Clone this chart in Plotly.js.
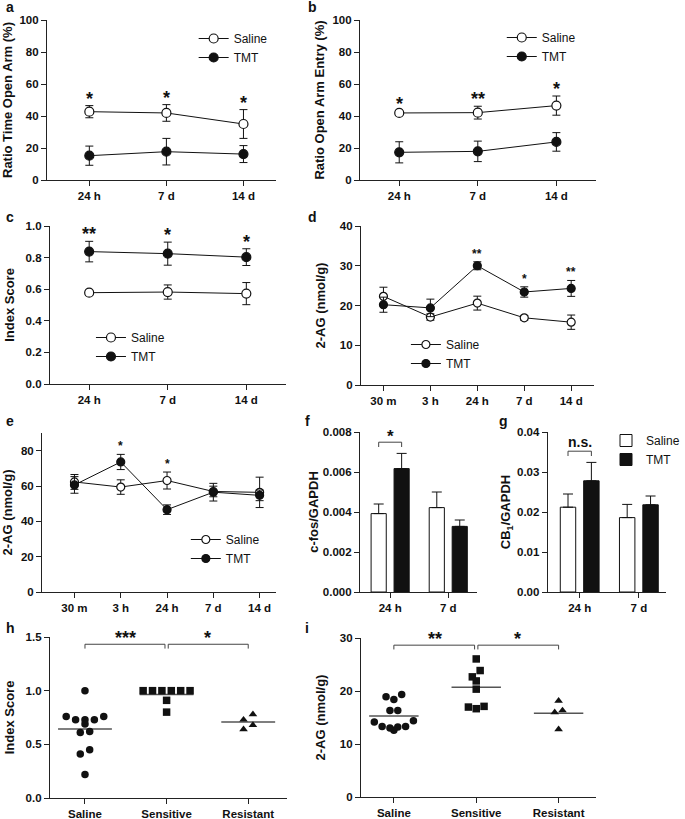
<!DOCTYPE html>
<html>
<head>
<meta charset="utf-8">
<script src="https://cdn.plot.ly/plotly-3.0.1.min.js"></script>
<style>
  body { margin: 0; background: #fff; }
  #fig { width: 685px; height: 819px; }
</style>
</head>
<body>
<div id="fig"></div>
<script>
// ---- data ----
var timesShort = ['24 h', '7 d', '14 d'];
var timesLong = ['30 m', '3 h', '24 h', '7 d', '14 d'];
var barTimes = ['24 h', '7 d'];
var groupNames = ['Saline', 'Sensitive', 'Resistant'];

// a: ratio time in open arm (%)
var openTimeSaline = [42.7, 41.9, 35.0];
var openTimeSalineSem = [3.8, 5.2, 9.0];
var openTimeTMT = [15.2, 17.7, 16.2];
var openTimeTMTSem = [6.0, 8.3, 5.3];
var openTimeSig = ['*', '*', '*'];

// b: ratio open arm entry (%)
var openEntrySaline = [41.9, 42.1, 46.5];
var openEntrySalineSem = [1.0, 4.0, 6.0];
var openEntryTMT = [17.3, 17.9, 23.8];
var openEntryTMTSem = [6.6, 6.4, 5.8];
var openEntrySig = ['*', '**', '*'];

// c: index score
var indexSaline = [0.578, 0.582, 0.572];
var indexSalineSem = [0.015, 0.045, 0.07];
var indexTMT = [0.838, 0.825, 0.803];
var indexTMTSem = [0.065, 0.073, 0.053];
var indexSig = ['**', '*', '*'];

// d: 2-AG (nmol/g)
var agDSaline = [22.3, 17.1, 20.6, 16.9, 15.8];
var agDSalineSem = [2.3, 0.8, 1.75, 0.6, 1.8];
var agDTMT = [20.2, 19.4, 30.0, 23.4, 24.3];
var agDTMTSem = [1.9, 2.2, 1.0, 1.3, 2.0];
var agDSig = ['', '', '**', '*', '**'];

// e: 2-AG (nmol/g)
var agESaline = [62.3, 59.4, 63.1, 56.9, 56.4];
var agESalineSem = [4.2, 4.1, 4.8, 3.0, 8.6];
var agETMT = [60.6, 73.6, 46.6, 56.5, 54.7];
var agETMTSem = [4.7, 4.3, 2.7, 5.0, 3.0];
var agESig = ['', '*', '*', '', ''];

// f: c-fos/GAPDH
var cfosSaline = [0.00392, 0.00422];
var cfosSalineSem = [0.00048, 0.00078];
var cfosTMT = [0.00617, 0.00328];
var cfosTMTSem = [0.00076, 0.00032];

// g: CB1/GAPDH
var cb1Saline = [0.0212, 0.0186];
var cb1SalineSem = [0.0033, 0.0033];
var cb1TMT = [0.0278, 0.0218];
var cb1TMTSem = [0.0046, 0.0022];

// h: index score per animal
var scoreSaline = [1.0, 0.76, 0.73, 0.69, 0.73, 0.73, 0.76, 0.61, 0.62, 0.45, 0.41, 0.22];
var scoreSensitive = [1.0, 1.0, 1.0, 1.0, 1.0, 1.0, 0.91, 0.80];
var scoreResistant = [0.78, 0.73, 0.68, 0.64];

// i: 2-AG per animal
var agSaline = [19.35, 18.4, 18.9, 16.3, 16.3, 14.4, 14.15, 13.3, 13.2, 12.6, 13.0, 13.3];
var agSensitive = [26.05, 23.86, 22.67, 21.9, 20.35, 17.1, 16.66, 16.97];
var agResistant = [18.16, 16.34, 15.97, 12.77];

// ---- layout helpers ----
var W = 685, H = 819;
var INK = '#111';
var FONT = 'Liberation Sans, Arial, sans-serif';

function dom(x0, x1, yTop, yBot) {
  return { x: [x0 / W, x1 / W], y: [1 - yBot / H, 1 - yTop / H] };
}
function sfx(k) { return k === 1 ? '' : String(k); }
function baseAxis() {
  return {
    showline: true, linecolor: '#222', linewidth: 1,
    ticks: 'outside', ticklen: 5, tickwidth: 1, tickcolor: '#222',
    showgrid: false, zeroline: false, fixedrange: true,
    tickfont: { family: FONT, size: 11.5, color: INK, weight: 'bold' }
  };
}

var layout = {
  width: W, height: H,
  margin: { l: 0, r: 0, t: 0, b: 0 },
  paper_bgcolor: '#fff', plot_bgcolor: '#fff',
  font: { family: FONT, color: INK },
  barmode: 'group', bargap: 0.21, bargroupgap: 0.34,
  showlegend: true,
  annotations: [], shapes: []
};
var traces = [];

function addAxes(k, d, xcfg, ycfg, ytitle) {
  var s = sfx(k);
  var xa = Object.assign(baseAxis(), { domain: d.x, anchor: 'y' + s }, xcfg);
  var ya = Object.assign(baseAxis(), { domain: d.y, anchor: 'x' + s }, ycfg);
  ya.title = { text: ytitle, font: { family: FONT, size: 13, color: INK, weight: 'bold' } };
  layout['xaxis' + s] = xa;
  layout['yaxis' + s] = ya;
}

function addLegend(id, px, py) {
  layout[id] = {
    x: px / W, y: 1 - py / H, xanchor: 'left', yanchor: 'top',
    bgcolor: 'rgba(0,0,0,0)', borderwidth: 0,
    font: { family: FONT, size: 12, color: INK },
    tracegroupgap: 0, itemwidth: 30
  };
}

function linePanel(k, labels, sal, salSem, tmt, tmtSem, sig, legendId, msize, starSize, starShift) {
  var s = sfx(k);
  var xs = labels.map(function (_, i) { return i; });
  var common = { x: xs, xaxis: 'x' + s, yaxis: 'y' + s, type: 'scatter', mode: 'lines+markers',
                 cliponaxis: false, legend: legendId, hoverinfo: 'skip' };
  traces.push(Object.assign({}, common, {
    name: 'Saline', y: sal,
    line: { color: INK, width: 1 },
    marker: { symbol: 'circle', size: msize, color: '#fff', line: { color: INK, width: 1.2 } },
    error_y: { type: 'data', array: salSem, color: INK, thickness: 1, width: 4 }
  }));
  traces.push(Object.assign({}, common, {
    name: 'TMT', y: tmt,
    line: { color: INK, width: 1 },
    marker: { symbol: 'circle', size: msize, color: INK, line: { color: INK, width: 1.2 } },
    error_y: { type: 'data', array: tmtSem, color: INK, thickness: 1, width: 4 }
  }));
  sig.forEach(function (t, i) {
    if (!t) return;
    layout.annotations.push({
      xref: 'x' + s, yref: 'y' + s, x: i,
      y: Math.max(sal[i] + salSem[i], tmt[i] + tmtSem[i]),
      text: t, showarrow: false, yanchor: 'bottom', yshift: starShift,
      font: { family: FONT, size: starSize, color: INK, weight: 'bold' }
    });
  });
}

function bracket(k, x0, x1, y, drop) {
  var s = sfx(k);
  layout.shapes.push({
    type: 'path', xref: 'x' + s, yref: 'y' + s,
    path: 'M ' + x0 + ',' + (y - drop) + ' L ' + x0 + ',' + y + ' L ' + x1 + ',' + y + ' L ' + x1 + ',' + (y - drop),
    line: { color: '#444', width: 1 }
  });
}
function label(k, x, y, text, size, shift) {
  var s = sfx(k);
  layout.annotations.push({
    xref: 'x' + s, yref: 'y' + s, x: x, y: y, text: text, showarrow: false,
    yanchor: 'bottom', yshift: shift,
    font: { family: FONT, size: size, color: INK, weight: 'bold' }
  });
}

function barPanel(k, sal, salSem, tmt, tmtSem, yMax, mark, legendId, showLeg) {
  var s = sfx(k);
  var xs = sal.map(function (_, i) { return i; });
  var zeros = sal.map(function () { return 0; });
  traces.push({
    type: 'bar', name: 'Saline', x: xs, y: sal, xaxis: 'x' + s, yaxis: 'y' + s,
    legend: legendId, showlegend: showLeg, hoverinfo: 'skip',
    marker: { color: '#fff', line: { color: INK, width: 1 } },
    error_y: { type: 'data', symmetric: false, array: salSem, arrayminus: zeros, color: INK, thickness: 1, width: 5 }
  });
  traces.push({
    type: 'bar', name: 'TMT', x: xs, y: tmt, xaxis: 'x' + s, yaxis: 'y' + s,
    legend: legendId, showlegend: showLeg, hoverinfo: 'skip',
    marker: { color: INK, line: { color: INK, width: 1 } },
    error_y: { type: 'data', symmetric: false, array: tmtSem, arrayminus: zeros, color: INK, thickness: 1, width: 5 }
  });
  // comparison bracket over the first time point
  var half = (1 - layout.bargap) / 4;
  var top = Math.max(sal[0] + salSem[0], tmt[0] + tmtSem[0]);
  var y = top + 0.07 * yMax;
  bracket(k, -half, half, y, 0.03 * yMax);
  label(k, 0, y, mark, mark === '*' ? 17 : 14, mark === '*' ? -6 : -1);
}

// column scatter: points with close values share a row and are spread sideways
function swarmX(vals, centre, thresh, step) {
  var order = vals.map(function (_, i) { return i; }).sort(function (a, b) { return vals[b] - vals[a]; });
  var rows = [], cur = [];
  order.forEach(function (i) {
    if (cur.length && vals[cur[0]] - vals[i] > thresh) { rows.push(cur); cur = []; }
    cur.push(i);
  });
  if (cur.length) rows.push(cur);
  var xs = new Array(vals.length);
  rows.forEach(function (row) {
    var n = row.length;
    var asc = row.slice().sort(function (a, b) { return vals[a] - vals[b]; });
    var slots = [];
    for (var j = 0; j < n; j++) slots.push(j - (n - 1) / 2);
    slots.sort(function (a, b) { return Math.abs(a) - Math.abs(b) || a - b; });
    asc.forEach(function (i, j) { xs[i] = centre + slots[j] * step; });
  });
  return xs;
}

function dotPanel(k, sets, yMax, thresh, step, halfW, marks) {
  var s = sfx(k);
  var symbols = ['circle', 'square', 'triangle-up'];
  sets.forEach(function (vals, g) {
    var mean = vals.reduce(function (a, b) { return a + b; }, 0) / vals.length;
    traces.push({
      type: 'scatter', mode: 'lines', x: [g - halfW, g + halfW], y: [mean, mean],
      xaxis: 'x' + s, yaxis: 'y' + s, showlegend: false, hoverinfo: 'skip',
      line: { color: '#555', width: 1.5 }
    });
    traces.push({
      type: 'scatter', mode: 'markers', x: swarmX(vals, g, thresh, step), y: vals,
      xaxis: 'x' + s, yaxis: 'y' + s, showlegend: false, hoverinfo: 'skip', cliponaxis: false,
      marker: { symbol: symbols[g], size: 7.5, color: INK }
    });
  });
  var y = 0.955 * yMax, drop = 0.027 * yMax;
  bracket(k, 0, 0.98, y, drop);
  bracket(k, 1.02, 2, y, drop);
  label(k, 0.5, y, marks[0], 18, -6);
  label(k, 1.5, y, marks[1], 18, -6);
}

// ---- panels ----
var catAxis = function (labels, lo, hi) {
  return { tickmode: 'array', tickvals: labels.map(function (_, i) { return i; }), ticktext: labels, range: [lo, hi] };
};

// a
addAxes(1, dom(48, 282, 20, 180), catAxis(timesShort, -0.55, 2.42),
        { range: [0, 100], dtick: 20 }, 'Ratio Time Open Arm (%)');
linePanel(1, timesShort, openTimeSaline, openTimeSalineSem, openTimeTMT, openTimeTMTSem, openTimeSig, 'legend', 9, 18, -5);
addLegend('legend', 198, 24);

// b
addAxes(2, dom(368, 609, 20, 180), catAxis(timesShort, -0.5, 2.5),
        { range: [0, 100], dtick: 20 }, 'Ratio Open Arm Entry (%)');
linePanel(2, timesShort, openEntrySaline, openEntrySalineSem, openEntryTMT, openEntryTMTSem, openEntrySig, 'legend2', 9, 18, -5);
addLegend('legend2', 513, 23);

// c
addAxes(3, dom(51, 292, 226, 384), catAxis(timesShort, -0.5, 2.5),
        { range: [0, 1], dtick: 0.2, tickformat: '.1f' }, 'Index Score');
linePanel(3, timesShort, indexSaline, indexSalineSem, indexTMT, indexTMTSem, indexSig, 'legend3', 9, 18, -5);
addLegend('legend3', 93, 323);

// d
addAxes(4, dom(369, 607, 226, 385), catAxis(timesLong, -0.48, 4.48),
        { range: [0, 40], dtick: 10 }, '2-AG (nmol/g)');
linePanel(4, timesLong, agDSaline, agDSalineSem, agDTMT, agDTMTSem, agDSig, 'legend4', 8, 12, -1);
addLegend('legend4', 415, 330);

// e
addAxes(5, dom(43, 282, 433, 592), catAxis(timesLong, -0.7, 4.35),
        { range: [0, 90], tickvals: [0, 20, 40, 60, 80] }, '2-AG (nmol/g)');
linePanel(5, timesLong, agESaline, agESalineSem, agETMT, agETMTSem, agESig, 'legend5', 8, 12, -1);
addLegend('legend5', 190, 525);

// f
addAxes(6, dom(368, 488, 432, 592), catAxis(barTimes, -0.52, 1.5),
        { range: [0, 0.008], dtick: 0.002, tickformat: '.3f' }, 'c-fos/GAPDH');
barPanel(6, cfosSaline, cfosSalineSem, cfosTMT, cfosTMTSem, 0.008, '*', 'legend6', false);

// g
addAxes(7, dom(560, 681, 432, 592), catAxis(barTimes, -0.54, 1.46),
        { range: [0, 0.04], dtick: 0.01, tickformat: '.2f' }, 'CB<sub>1</sub>/GAPDH');
barPanel(7, cb1Saline, cb1SalineSem, cb1TMT, cb1TMTSem, 0.04, 'n.s.', 'legend6', true);
addLegend('legend6', 620, 426);

// h
addAxes(8, dom(51, 293, 637, 798), catAxis(groupNames, -0.43, 2.47),
        { range: [0, 1.5], dtick: 0.5, tickformat: '.1f' }, 'Index Score');
dotPanel(8, [scoreSaline, scoreSensitive, scoreResistant], 1.5, 0.055, 0.115, 0.33, ['***', '*']);

// i
addAxes(9, dom(369, 609, 638, 797), catAxis(groupNames, -0.4, 2.45),
        { range: [0, 30], dtick: 10 }, '2-AG (nmol/g)');
dotPanel(9, [agSaline, agSensitive, agResistant], 30, 1.5, 0.095, 0.3, ['**', '*']);

// panel letters
var letters = [['a', 4, 7], ['b', 313, 7], ['c', 4, 217], ['d', 313, 217], ['e', 4, 421],
               ['f', 310, 421], ['g', 508, 421], ['h', 4, 628], ['i', 310, 628]];
letters.forEach(function (l) {
  layout.annotations.push({
    xref: 'paper', yref: 'paper', x: l[1] / W, y: 1 - l[2] / H, text: l[0],
    showarrow: false, xanchor: 'left', yanchor: 'middle',
    font: { family: FONT, size: 14, color: INK, weight: 'bold' }
  });
});

Plotly.newPlot('fig', traces, layout, { staticPlot: true, displayModeBar: false });
</script>
</body>
</html>
